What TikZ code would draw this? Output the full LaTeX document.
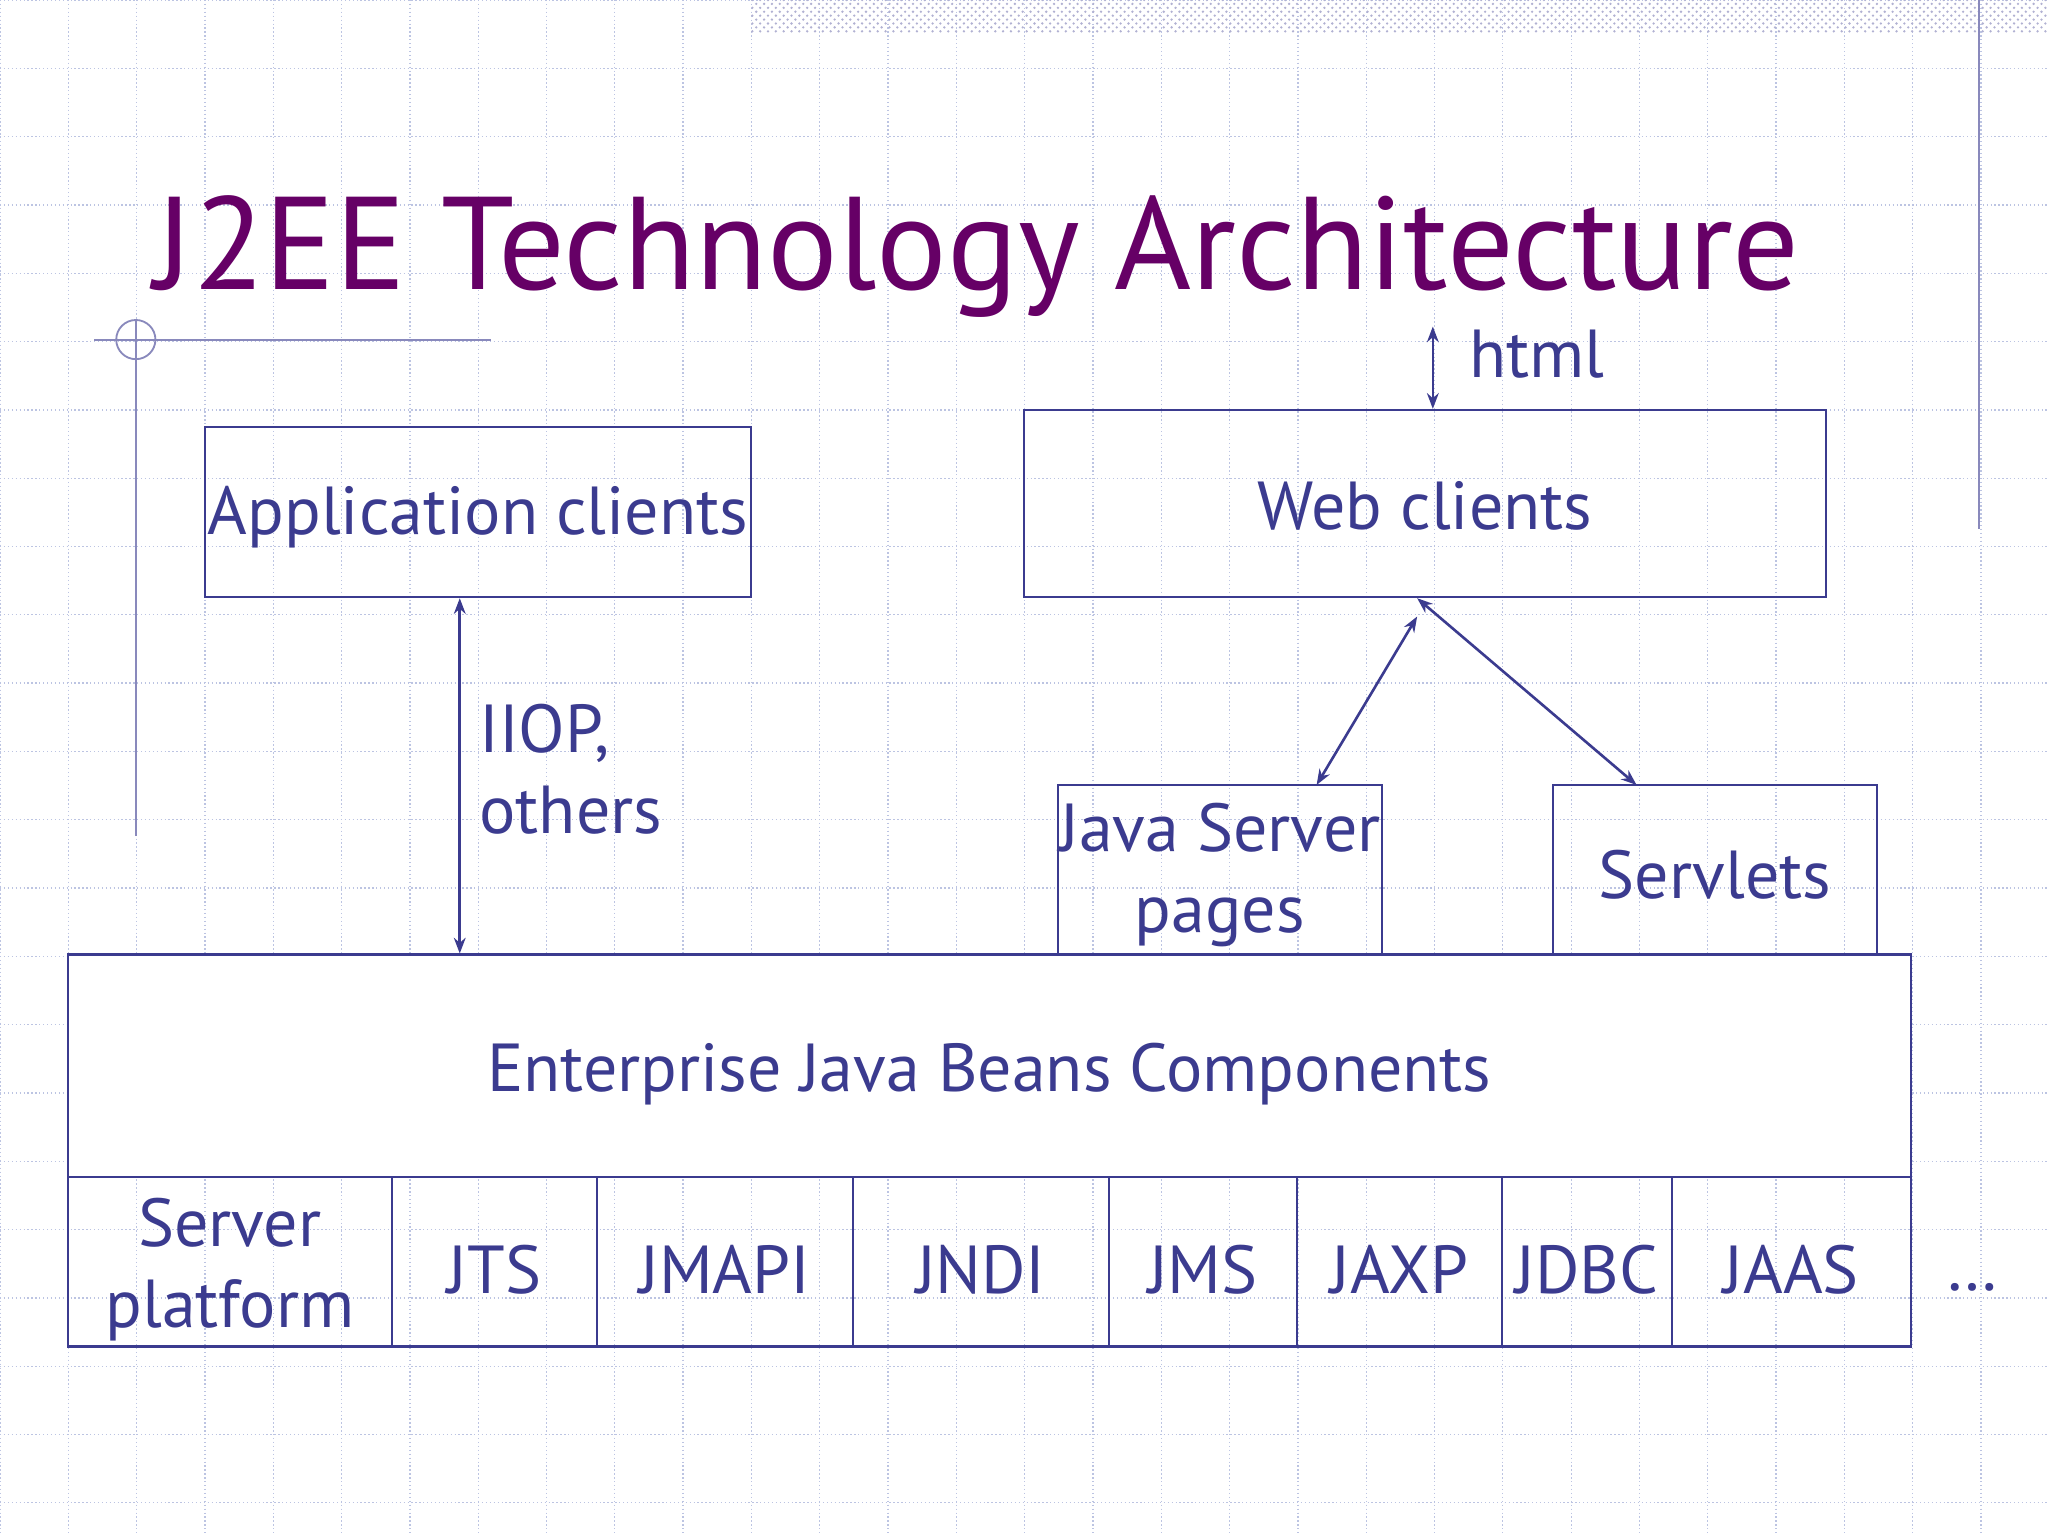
\documentclass[tikz,border=0pt]{standalone}
\usepackage{fontspec}
\setmainfont{PT Sans}
\usetikzlibrary{fit,arrows.meta,patterns}
\definecolor{ink}{HTML}{3B3B8F}
\definecolor{ttl}{HTML}{660066}
\definecolor{gridc}{HTML}{BCC4E2}
\tikzset{
 box/.style={draw=ink,line width=1pt,inner sep=0pt,fill=none},
 lbl/.style={text=ink,font=\fontsize{26}{31}\selectfont,align=center},
 con/.style={draw=ink,line width=1pt,{Stealth[length=6pt,width=4.5pt]}-{Stealth[length=6pt,width=4.5pt]}},
 deco/.style={draw=ink!60!white,line width=0.7pt}
}
\begin{document}
\begin{tikzpicture}[x=0.5pt,y=-0.5pt]
\useasboundingbox (0,0) rectangle (1568,1176);
\fill[white] (0,0) rectangle (1568,1176);
% grid
\foreach \i in {0,...,30} {\draw[gridc,densely dotted,line width=0.5pt] (\i*52.3,0) -- (\i*52.3,1176);}
\foreach \j in {0,...,23} {\draw[gridc,densely dotted,line width=0.5pt] (0,\j*52.3) -- (1568,\j*52.3);}
% top band
\fill[pattern=crosshatch dots,pattern color=ink!40] (575,0) rectangle (1568,25);
\draw[deco] (1515,0) -- (1515,405);
\draw[deco] (104,245) -- (104,640);
\draw[deco] (72,260) -- (376,260);
\draw[deco] (104,260) circle (15);
% title
\node[anchor=base west,text=ttl,font=\fontsize{50.5}{60}\selectfont,inner sep=0] (title) at (118,222) {J2EE Technology Architecture};
% boxes
\node[box,fit={(157,327) (575,457)}] (app) {};
\node[lbl] at ([yshift=-2pt]app.center) {Application clients};
\node[box,fit={(784,314) (1398,457)}] (web) {};
\node[lbl] at ([yshift=-1pt]web.center) {Web clients};
\node[box,fit={(810,601) (1058,731)}] (jsp) {};
\node[lbl] at ([yshift=-2pt]jsp.center) {Java Server\\pages};
\node[box,fit={(1189,601) (1437,731)}] (serv) {};
\node[lbl] at ([yshift=-2pt]serv.center) {Servlets};
\node[box,fill=white,fit={(52,731) (1463,901)}] (ejb) {};
\node[lbl] at ([yshift=-3pt]ejb.center) {Enterprise Java Beans Components};
% bottom row
\foreach \a/\b/\t/\n in {52/300/{Server\\platform}/c1,300/457/JTS/c2,457/653/JMAPI/c3,653/849/JNDI/c4,849/993/JMS/c5,993/1150/JAXP/c6,1150/1280/JDBC/c7,1280/1463/JAAS/c8}{
 \node[box,fit={(\a,901) (\b,1031)}] (\n) {};
 \node[lbl] at ([yshift=-3pt]\n.center) {\t};
}
\node[lbl] (dots) at (1510,986) {\dots};
% connectors
\coordinate (h1) at (1097,250);
\draw[con] (h1) -- (web.north -| h1);
\node[lbl,anchor=west] (html) at (1118,271) {html};
\draw[con] (app.south -| 352,0) -- (ejb.north -| 352,0);
\node[lbl,anchor=north west,align=left] (iiop) at (360,532) {IIOP,\\others};
\coordinate (wj) at (1085,472);
\draw[con] (wj) -- (1008,601);
\coordinate (ws) at (1085,458);
\draw[con] (ws) -- (1253,601);
\end{tikzpicture}
\end{document}
